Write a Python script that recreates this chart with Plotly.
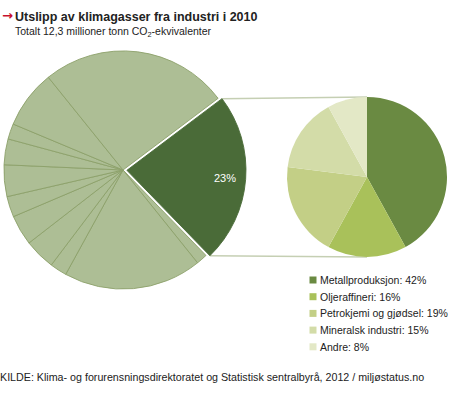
import math
import plotly.graph_objects as go

W, H = 450, 395

# ---- data ----
big_values = [23, 1.5, 18.75, 2.3, 4.2, 4.1, 2.8, 4.3, 3.5, 2.1, 7.9, 25.5]
big_labels = ["Industri"] + [f"Annet {i}" for i in range(1, len(big_values))]
small_labels = ["Metallproduksjon", "Oljeraffineri", "Petrokjemi og gjødsel",
                "Mineralsk industri", "Andre"]
small_values = [42, 16, 19, 15, 8]
title = "Utslipp av klimagasser fra industri i 2010"
subtitle = "Totalt 12,3 millioner tonn CO<sub>2</sub>-ekvivalenter"
source = "KILDE: Klima- og forurensningsdirektoratet og Statistisk sentralbyrå, 2012 / miljøstatus.no"

# ---- styling ----
light = "#adbe95"
dark = "#4a6b38"
small_colors = ["#6a8a42", "#a9c15a", "#c3cf86", "#d3dca8", "#e3e8c6"]
FONT = "Liberation Sans, Arial, sans-serif"

def px(x):
    return x / W

def py(y):
    return (H - y) / H

# big pie geometry (pixels)
bcx, bcy, bhalf = 123, 170, 123
pull = 0.033
br = bhalf / (1 + pull)
rot_big = 53  # degrees clockwise from 12 o'clock

# small pie geometry
scx, scy, sr = 367, 177, 80

fig = go.Figure()

pulls = [pull] + [0] * (len(big_values) - 1)
fig.add_trace(go.Pie(
    values=big_values, labels=big_labels, sort=False, direction="clockwise",
    rotation=rot_big, pull=pulls, textinfo="none", hoverinfo="label+percent",
    marker=dict(colors=[dark] + [light] * (len(big_values) - 1),
                line=dict(color=[dark] + ["#8ca06a"] * (len(big_values) - 1), width=0.9)),
    domain=dict(x=[px(bcx - bhalf), px(bcx + bhalf)], y=[py(bcy + bhalf), py(bcy - bhalf)]),
    showlegend=False,
))

fig.add_trace(go.Pie(
    values=small_values, labels=small_labels, sort=False, direction="clockwise",
    rotation=0, textinfo="none", hoverinfo="label+percent",
    marker=dict(colors=small_colors, line=dict(width=0)),
    domain=dict(x=[px(scx - sr), px(scx + sr)], y=[py(scy + sr), py(scy - sr)]),
    showlegend=False,
))

total = sum(big_values)
a0 = math.radians(90 - rot_big)
a1 = a0 - 2 * math.pi * big_values[0] / total
amid = (a0 + a1) / 2
ox = bcx + pull * br * math.cos(amid)
oy = bcy - pull * br * math.sin(amid)

shapes = []
# connector lines
for a, ty in [(a0, scy - sr), (a1, scy + sr)]:
    x0 = ox + br * math.cos(a)
    y0 = oy - br * math.sin(a)
    shapes.append(dict(type="line", xref="paper", yref="paper",
                       x0=px(x0), y0=py(y0), x1=px(scx), y1=py(ty),
                       line=dict(color="#c5cfb3", width=1.5), layer="below"))

annotations = []
pct = round(100 * big_values[0] / total)
annotations.append(dict(x=px(ox + 0.83 * br * math.cos(amid)), y=py(oy - 0.83 * br * math.sin(amid)),
                        xref="paper", yref="paper", text=f"{pct}%", showarrow=False,
                        font=dict(family=FONT, size=11, color="white")))

# legend
lx, ly0, ldy = 313, 280, 16.7
for i, (lab, v, c) in enumerate(zip(small_labels, small_values, small_colors)):
    y = ly0 + i * ldy
    shapes.append(dict(type="rect", xref="paper", yref="paper",
                       x0=px(lx - 3.5), x1=px(lx + 3.5), y0=py(y + 3.5), y1=py(y - 3.5),
                       fillcolor=c, line=dict(width=0)))
    annotations.append(dict(x=px(lx + 5), y=py(y), xref="paper", yref="paper",
                            xanchor="left", yanchor="middle", text=f"{lab}: {v}%",
                            showarrow=False, font=dict(family=FONT, size=10.5, color="#222")))

# title
annotations.append(dict(x=px(0), y=py(16), xref="paper", yref="paper", xanchor="left",
                        yanchor="middle", text="<b>→</b>", showarrow=False,
                        font=dict(family="DejaVu Sans, sans-serif", size=13, color="#c8102e")))
annotations.append(dict(x=px(13), y=py(17), xref="paper", yref="paper", xanchor="left",
                        yanchor="middle", text=f"<b>{title}</b>", showarrow=False,
                        font=dict(family=FONT, size=12.5, color="#222")))
annotations.append(dict(x=px(13), y=py(32), xref="paper", yref="paper", xanchor="left",
                        yanchor="middle", text=subtitle, showarrow=False,
                        font=dict(family=FONT, size=10.5, color="#222")))
annotations.append(dict(x=px(-2), y=py(377), xref="paper", yref="paper", xanchor="left",
                        yanchor="middle", text=source, showarrow=False,
                        font=dict(family=FONT, size=10.7, color="#222")))

fig.update_layout(width=W, height=H, margin=dict(l=0, r=0, t=0, b=0),
                  paper_bgcolor="white", plot_bgcolor="white",
                  shapes=shapes, annotations=annotations)

fig.write_html("out.html", config={"displayModeBar": False},
               post_script="document.body.style.margin='0';")
